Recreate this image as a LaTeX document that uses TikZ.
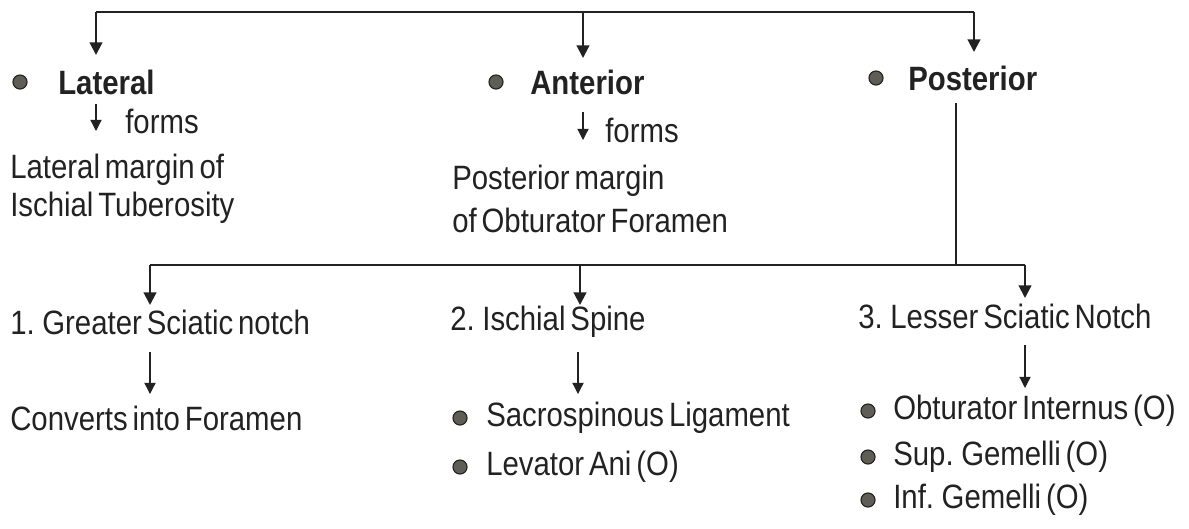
\documentclass[tikz,border=0pt]{standalone}
\usepackage{fontspec}
\setmainfont{Liberation Sans}[FakeStretch=0.87, WordSpace=0.6]
\usetikzlibrary{arrows.meta}
\definecolor{ink}{HTML}{222222}
\definecolor{dotfill}{HTML}{5E5E56}
\tikzset{
  txt/.style={anchor=west, inner sep=0pt, text=ink, font=\fontsize{24}{28}\selectfont},
  head/.style={txt, font=\fontsize{24}{28}\selectfont\bfseries},
  dot/.style={circle, fill=dotfill, draw=ink, line width=0.8pt, minimum size=10pt, inner sep=0pt},
  link/.style={draw=ink, line width=1.5pt},
  arr/.style={link, -{Triangle[width=9pt,length=9pt]}},
  sarr/.style={draw=ink, line width=0.9pt, -{Triangle[width=8pt,length=8pt]}}
}
\begin{document}
\begin{tikzpicture}[x=0.025cm, y=-0.025cm]
\useasboundingbox (0,0) rectangle (1189,528);
% top level
\coordinate (tl) at (96,12);
\coordinate (ta) at (583,12);
\coordinate (tr) at (974,12);
\coordinate (tlh) at (96,55);
\coordinate (tah) at (583,58);
\coordinate (trh) at (974,52);
\node[dot] (d1) at (20,82) {};
\node[head] (lat) at (58,82) {Lateral};
\node[dot] (d2) at (496,82) {};
\node[head] (ant) at (530,82) {Anterior};
\node[dot] (d3) at (876,78) {};
\node[head] (post) at (908,78) {Posterior};
\draw[link] (tl) -- (tr);
\draw[arr] (tl) -- (tlh);
\draw[arr] (ta) -- (tah);
\draw[arr] (tr) -- (trh);
% lateral
\coordinate (la1) at (96,104);
\coordinate (la2) at (96,131);
\draw[sarr] (la1) -- (la2);
\node[txt] (lforms) at (125,121) {forms};
\node[txt] (lm1) at (10,170) {Lateral margin of};
\node[txt] (lm2) at (10,208) {Ischial Tuberosity};
% anterior
\coordinate (an1) at (583,112);
\coordinate (an2) at (583,140);
\draw[sarr] (an1) -- (an2);
\node[txt] (aforms) at (605,130) {forms};
\node[txt] (am1) at (452,181) {Posterior margin};
\node[txt] (am2) at (452,220) {of Obturator Foramen};
% posterior branch
\coordinate (p0) at (956,103);
\coordinate (p1) at (956,265);
\coordinate (b1) at (150,265);
\coordinate (b2) at (580,265);
\coordinate (b3) at (1025,265);
\coordinate (b1h) at (150,305);
\coordinate (b2h) at (580,305);
\coordinate (b3h) at (1025,298);
\draw[link] (p0) -- (p1);
\draw[link] (b1) -- (b3);
\draw[arr] (b1) -- (b1h);
\draw[arr] (b2) -- (b2h);
\draw[arr] (b3) -- (b3h);
\node[txt] (g1) at (10,322) {1. Greater Sciatic notch};
\node[txt] (g2) at (450,322) {2. Ischial Spine};
\node[txt] (g3) at (858,316) {3. Lesser Sciatic Notch};
% sub arrows
\coordinate (s1a) at (150,352);
\coordinate (s1b) at (150,394);
\coordinate (s2a) at (578,352);
\coordinate (s2b) at (578,394);
\coordinate (s3a) at (1025,345);
\coordinate (s3b) at (1025,388);
\draw[sarr] (s1a) -- (s1b);
\draw[sarr] (s2a) -- (s2b);
\draw[sarr] (s3a) -- (s3b);
\node[txt] (c1) at (10,418) {Converts into Foramen};
\node[dot] (e1) at (460,418) {};
\node[txt] (sl) at (486,418) {Sacrospinous Ligament};
\node[dot] (e2) at (460,467) {};
\node[txt] (la) at (486,467) {Levator Ani (O)};
\node[dot] (f1) at (868,411) {};
\node[txt] (oi) at (893,411) {Obturator Internus (O)};
\node[dot] (f2) at (868,457) {};
\node[txt] (sg) at (893,457) {Sup. Gemelli (O)};
\node[dot] (f3) at (868,500) {};
\node[txt] (ig) at (893,500) {Inf. Gemelli (O)};
\end{tikzpicture}
\end{document}
